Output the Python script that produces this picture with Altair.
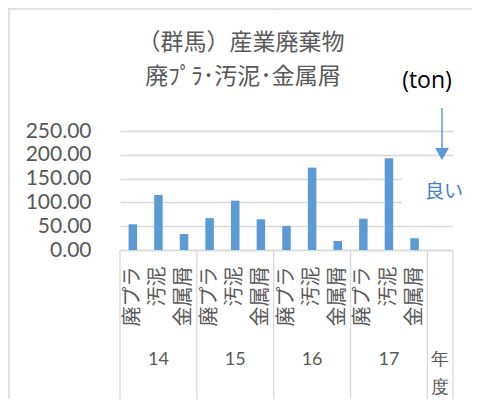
import altair as alt
import pandas as pd

# ---- data ----
years = ["14", "15", "16", "17"]
items = ["廃プラ", "汚泥", "金属屑"]
values = {
    "14": [54.0, 115.5, 33.6],
    "15": [67.0, 103.6, 64.5],
    "16": [50.4, 173.0, 19.0],
    "17": [65.8, 192.6, 24.6],
}
extra_group = "年度"
y_ticks = [0, 50, 100, 150, 200, 250]
title_lines = ["（群馬）産業廃棄物", "廃ﾌﾟﾗ･汚泥･金属屑"]
unit_text = "(ton)"
note_text = "良い"

# ---- build tables ----
rows = []
domain = []
for yr in years:
    for it, v in zip(items, values[yr]):
        key = f"{yr}|{it}"
        domain.append(key)
        rows.append({"key": key, "value": v})
last_key = f"{extra_group}|"
domain.append(last_key)
bars_df = pd.DataFrame(rows)

group_df = pd.DataFrame(
    [{"key": f"{yr}|{items[1]}", "label": yr} for yr in years]
    + [{"key": last_key, "label": "\n".join(extra_group)}]
)
sep_df = pd.DataFrame({"key": [f"{yr}|{items[0]}" for yr in years] + [last_key]})
sep_end_df = pd.DataFrame({"key": [last_key]})

GRAY = "#d9d9d9"
TXT = "#595959"
BLUE = "#5b9bd5"
CJK = "Noto Sans CJK JP"
NUM = "Lato"

W, H = 333, 119

x_enc = alt.X(
    "key:N",
    scale=alt.Scale(domain=domain, paddingInner=0, paddingOuter=0),
    axis=alt.Axis(
        title=None,
        labelExpr="split(datum.label, '|')[1]",
        labelAngle=-90,
        labelFont=CJK,
        labelFontSize=20,
        labelColor=TXT,
        labelPadding=16,
        ticks=False,
        domainColor=GRAY,
        domainWidth=1.3,
        grid=False,
    ),
)

bars = alt.Chart(bars_df).mark_bar(color=BLUE, size=8.5).encode(
    x=x_enc,
    y=alt.Y(
        "value:Q",
        scale=alt.Scale(domain=[0, 250], nice=False),
        axis=alt.Axis(
            title=None,
            values=y_ticks,
            format=".2f",
            labelFont=NUM,
            labelFontSize=21,
            labelColor=TXT,
            labelPadding=29,
            ticks=False,
            domain=False,
            gridColor=GRAY,
            gridWidth=1.3,
        ),
    ),
)

seps = alt.Chart(sep_df).mark_rule(color=GRAY, strokeWidth=1.3).encode(
    x=alt.X("key:N", bandPosition=0),
    y=alt.value(H),
    y2=alt.value(H + 149),
)
sep_end = alt.Chart(sep_end_df).mark_rule(color=GRAY, strokeWidth=1.3).encode(
    x=alt.X("key:N", bandPosition=1),
    y=alt.value(H),
    y2=alt.value(H + 149),
)

groups = alt.Chart(group_df).mark_text(
    font=NUM, fontSize=18, color=TXT, lineBreak="\n", lineHeight=28, baseline="top"
).encode(
    x=alt.X("key:N"),
    y=alt.value(220),
    text="label:N",
)

# white box behind the note (covers grid lines as in the reference)
note_bg = alt.Chart(pd.DataFrame({"t": [note_text]})).mark_rect(color="white").encode(
    x=alt.value(282), x2=alt.value(352), y=alt.value(38), y2=alt.value(84)
)
note = alt.Chart(pd.DataFrame({"t": [note_text]})).mark_text(
    font=CJK, fontSize=19, color="#3f7fc7"
).encode(x=alt.value(324), y=alt.value(61), text="t:N")

arrow_line = alt.Chart(pd.DataFrame({"t": ["arrow"]})).mark_rule(
    color=BLUE, strokeWidth=1.5
).encode(x=alt.value(322), y=alt.value(-23), y2=alt.value(20))
arrow_head = alt.Chart(pd.DataFrame({"t": ["arrow"]})).mark_point(
    shape="triangle-down", filled=True, color=BLUE, opacity=1, size=190
).encode(x=alt.value(322), y=alt.value(23))

title1 = alt.Chart(pd.DataFrame({"t": [title_lines[0]]})).mark_text(
    font=CJK, fontSize=23, color=TXT
).encode(x=alt.value(121), y=alt.value(-88), text="t:N")
title2 = alt.Chart(pd.DataFrame({"t": [title_lines[1]]})).mark_text(
    font=CJK, fontSize=23, color=TXT
).encode(x=alt.value(123), y=alt.value(-54), text="t:N")
unit = alt.Chart(pd.DataFrame({"t": [unit_text]})).mark_text(
    font="Open Sans", fontSize=23, color="#000000"
).encode(x=alt.value(307), y=alt.value(-50), text="t:N")

frame_top = alt.Chart(pd.DataFrame({"t": ["frame"]})).mark_rule(
    color=GRAY, strokeWidth=1.5
).encode(x=alt.value(-112), x2=alt.value(352), y=alt.value(-122))
frame_left = alt.Chart(pd.DataFrame({"t": ["frame"]})).mark_rule(
    color=GRAY, strokeWidth=1.5
).encode(x=alt.value(-111), y=alt.value(-123), y2=alt.value(H + 150))

chart = (
    alt.layer(
        note_bg, bars, seps, sep_end, groups, note, arrow_line, arrow_head,
        title1, title2, unit, frame_top, frame_left,
    )
    .properties(
        width=W,
        height=H,
        autosize=alt.AutoSizeParams(type="none"),
        padding={"left": 112, "top": 123, "right": 19, "bottom": 149},
    )
    .configure_view(strokeWidth=0)
)

chart.save("out.html", embed_options={"renderer": "svg", "actions": False})
